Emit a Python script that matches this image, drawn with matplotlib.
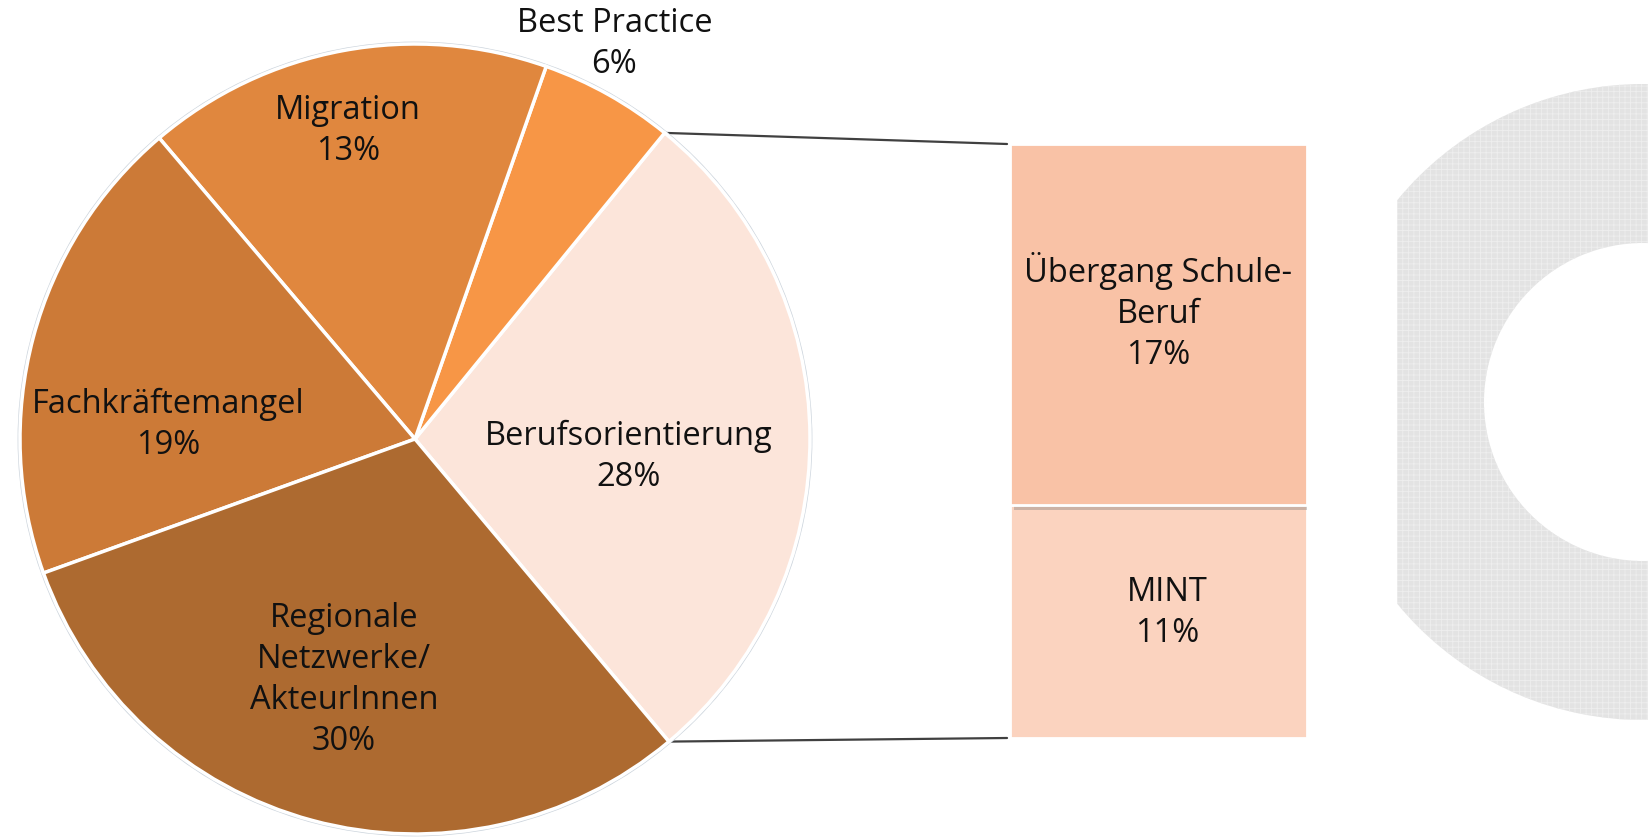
import matplotlib
matplotlib.use("Agg")
import matplotlib.pyplot as plt
import matplotlib.patches as mpatches
import matplotlib.patheffects as pe
import numpy as np

# Werte aus dem Bild (Anteile der Tortenstücke, Beschriftungen wie im Original)
pie_names = ["Berufsorientierung", "Best Practice", "Migration", "Fachkräftemangel",
             "Regionale\nNetzwerke/\nAkteurInnen"]
pie_share = [28.0, 5.5, 16.6, 19.3, 30.6]
pie_pct = ["28%", "6%", "13%", "19%", "30%"]
pie_colors = ["#FCE5DA", "#F79646", "#E0873E", "#CC7A37", "#AD6A30"]

bar_names = ["MINT", "Übergang Schule-\nBeruf"]
bar_share = [11, 17]
bar_pct = ["11%", "17%"]
bar_colors = ["#FBD3BF", "#F9C2A6"]

# Layout (Pixel / Achsen-Koordinaten)
W, H = 1649, 840
pie_cx, pie_cy, pie_r = 415, 439, 395
bar_box = (1010, 144, 1307, 738)
label_pos = [(0.54, -0.045), (0.505, 1.0), (-0.17, 0.78), (-0.625, 0.035), (-0.18, -0.61)]
bar_label_pos = [(0.03, 5.9), (0.0, 20.1)]

plt.rcParams["font.family"] = ["Open Sans", "DejaVu Sans"]
plt.rcParams["hatch.linewidth"] = 0.6

fig = plt.figure(figsize=(W / 100, H / 100), dpi=100)
fig.patch.set_facecolor("white")

# Hintergrund-Ring rechts
bg = fig.add_axes([0, 0, 1, 1], zorder=0)
bg.set_xlim(0, W)
bg.set_ylim(H, 0)
bg.axis("off")
ring = mpatches.Annulus((1643, 402), 318, 159, facecolor="#e3e3e3",
                        edgecolor="#eeeeee", hatch="+++", linewidth=0)
bg.add_patch(ring)
clip = mpatches.Rectangle((1397, 0), 400, H, transform=bg.transData, visible=False)
bg.add_patch(clip)
ring.set_clip_path(clip)


def fig_box(x0, y0, x1, y1):
    return [x0 / W, 1 - y1 / H, (x1 - x0) / W, (y1 - y0) / H]


# Torte
ax = fig.add_axes(fig_box(pie_cx - pie_r, pie_cy - pie_r, pie_cx + pie_r, pie_cy + pie_r), zorder=2)
start = -50.0
wedges, _ = ax.pie(pie_share, colors=pie_colors, startangle=start, counterclock=True,
                   radius=1, wedgeprops=dict(edgecolor="white", linewidth=2.5))
ax.add_patch(mpatches.Circle((0, 0), 1.004, fill=False, edgecolor="#cdd5dd",
                             linewidth=1.2, zorder=0, clip_on=False))
ax.set_xlim(-1, 1)
ax.set_ylim(-1, 1)
ax.set_aspect("equal")
ax.axis("off")
ax.patch.set_alpha(0)
for (x, y), name, pct in zip(label_pos, pie_names, pie_pct):
    ax.text(x, y, name + "\n" + pct, ha="center", va="center", fontsize=23.5,
            linespacing=1.32, color="#111111", clip_on=False)

# Balken
ax2 = fig.add_axes(fig_box(*bar_box), zorder=2)
bottom = 0
for val, col in zip(bar_share, bar_colors):
    ax2.bar([0], [val], bottom=bottom, width=1.0, color=col, edgecolor="white", linewidth=2,
            path_effects=[pe.SimplePatchShadow(offset=(3, -4), shadow_rgbFace="#777777", alpha=0.35),
                          pe.Normal()])
    bottom += val
ax2.set_xlim(-0.5, 0.5)
ax2.set_ylim(0, sum(bar_share))
ax2.axis("off")
ax2.patch.set_alpha(0)
for (x, y), name, pct in zip(bar_label_pos, bar_names, bar_pct):
    ax2.text(x, y, name + "\n" + pct, ha="center", va="center", fontsize=23.5,
             linespacing=1.32, color="#111111")

# Verbindungslinien vom Tortenstück zum Balken
w0 = wedges[0]
for ang, yb in [(w0.theta2, sum(bar_share)), (w0.theta1, 0)]:
    a = np.deg2rad(ang)
    con = mpatches.ConnectionPatch(xyA=(np.cos(a), np.sin(a)), coordsA=ax.transData,
                                   xyB=(-0.51, yb), coordsB=ax2.transData,
                                   color="#404040", linewidth=1.6)
    fig.add_artist(con)

fig.savefig("out.png", dpi=100, facecolor="white")
